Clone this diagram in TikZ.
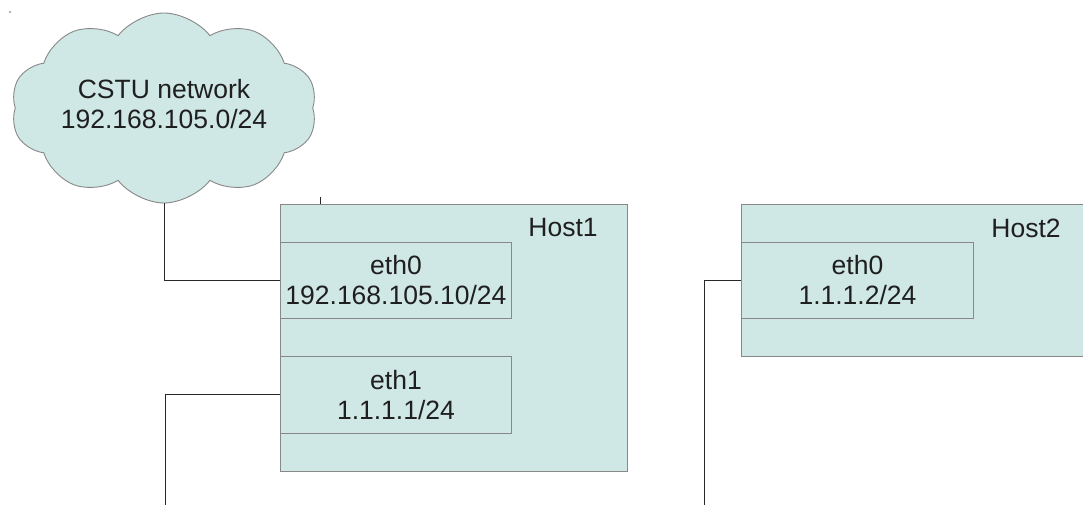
\documentclass[tikz,border=0pt]{standalone}
\usepackage{fontspec}
\setmainfont{Liberation Sans}
\usetikzlibrary{shapes.symbols}
\definecolor{boxfill}{RGB}{207,231,229}
\definecolor{boxline}{RGB}{136,136,136}
\definecolor{wire}{RGB}{40,40,40}
\tikzset{
  hostbox/.style={draw=boxline, fill=boxfill, line width=0.9pt, anchor=north west, inner sep=0pt},
  ifbox/.style={draw=boxline, fill=boxfill, line width=0.9pt, anchor=north west, inner sep=0pt,
    align=center, font=\fontsize{26.5}{30}\selectfont, text=black!88},
  lbl/.style={font=\fontsize{26.5}{30}\selectfont, text=black!88, inner sep=0pt},
  wireline/.style={draw=wire, line width=1pt},
}
\begin{document}
\begin{tikzpicture}[x=1pt,y=-1pt]
\useasboundingbox (0,0) rectangle (1083,505);
\clip (0,0) rectangle (1083,505);
\fill[white] (0,0) rectangle (1083,505);
% stray dot
\fill[black!60] (10,12) circle (0.8pt);
% cloud
\node[cloud, cloud puffs=10, cloud puff arc=105, cloud ignores aspect, draw=boxline, fill=boxfill,
  line width=0.9pt, minimum width=306pt, minimum height=190pt,
  font=\fontsize{26.5}{30}\selectfont, text=black!88] (cloud) at (164,108)
  {\begin{tabular}{@{}c@{}}CSTU network\\192.168.105.0/24\end{tabular}};
% Host1
\draw[wire, line width=0.8pt] (320,197) -- (320,204);
\node[hostbox, minimum width=347pt, minimum height=267pt] (h1) at (280,204) {};
\node[lbl] (h1lbl) at (563,228) {Host1};
\node[ifbox, minimum width=231pt, minimum height=76pt] (h1e0) at (280,242) {eth0\\192.168.105.10/24};
\node[ifbox, minimum width=231pt, minimum height=77pt] (h1e1) at (280,356) {eth1\\1.1.1.1/24};
% Host2
\node[hostbox, minimum width=360pt, minimum height=152pt] (h2) at (741,204) {};
\node[lbl] (h2lbl) at (1026,228) {Host2};
\node[ifbox, minimum width=232pt, minimum height=76pt] (h2e0) at (741,242) {eth0\\1.1.1.2/24};
% connectors
\coordinate (c1) at (165,506);
\coordinate (c2) at (704,506);
\draw[wireline] (cloud.south) |- (h1e0.west);
\draw[wireline] (h1e1.west) -| (c1);
\draw[wireline] (h2e0.west) -| (c2);
\end{tikzpicture}
\end{document}
